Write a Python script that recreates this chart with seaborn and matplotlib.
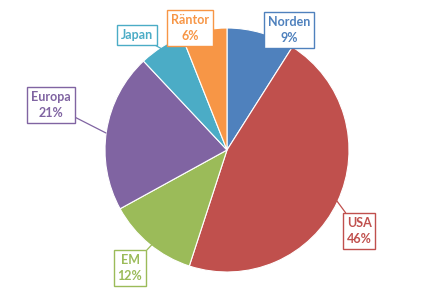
import matplotlib
matplotlib.use("Agg")
import matplotlib.pyplot as plt
import seaborn as sns
import numpy as np

# Data
categories = ["Norden", "USA", "EM", "Europa", "Japan", "Räntor"]
values = [9, 46, 12, 21, 6, 6]
show_pct = [True, True, True, True, False, True]

colors = ["#4F81BD", "#C0504D", "#9BBB59", "#8064A2", "#4BACC6", "#F79646"]

sns.set_theme(style="white")
plt.rcParams["font.family"] = ["Lato", "DejaVu Sans"]

fig = plt.figure(figsize=(4.48, 2.96), dpi=100)
ax = fig.add_axes([0, 0, 1, 1])

R = 122.0
cx, cy = 227.0, 150.0

def px(x, y):
    return ((x - cx) / R, (cy - y) / R)

ax.pie(values, colors=sns.color_palette(colors), startangle=90, counterclock=False,
       radius=1.0, center=(0, 0),
       wedgeprops=dict(edgecolor="white", linewidth=0.8))

# label layout (pixel positions of box centre and pointer target)
layout = {
    "Norden": ((289, 30), (262, 40)),
    "USA": ((359, 231), (334, 197)),
    "EM": ((130, 268), (160, 236)),
    "Europa": ((51, 105), (106, 133)),
    "Japan": ((137, 35), (178, 58)),
    "Räntor": ((190, 28), None),
}

for name, val, sp, col in zip(categories, values, show_pct, colors):
    (bx, by), tgt = layout[name]
    txt = f"{name}\n{val}%" if sp else name
    bbox = dict(boxstyle="square,pad=0.32", fc="white", ec=col, lw=1.0)
    if tgt is not None:
        ax.annotate(txt, xy=px(*tgt), xytext=px(bx, by), ha="center", va="center",
                    fontsize=9, fontweight="bold", color=col, bbox=bbox,
                    linespacing=1.35,
                    arrowprops=dict(arrowstyle="-", color=col, lw=0.9,
                                    shrinkA=0, shrinkB=0))
    else:
        ax.text(*px(bx, by), txt, ha="center", va="center", fontsize=9,
                fontweight="bold", color=col, bbox=bbox, linespacing=1.35)

ax.set_xlim(-cx / R, (448 - cx) / R)
ax.set_ylim(-(296 - cy) / R, cy / R)
ax.set_aspect("auto")
ax.axis("off")

fig.savefig("out.png", dpi=100, facecolor="white")
